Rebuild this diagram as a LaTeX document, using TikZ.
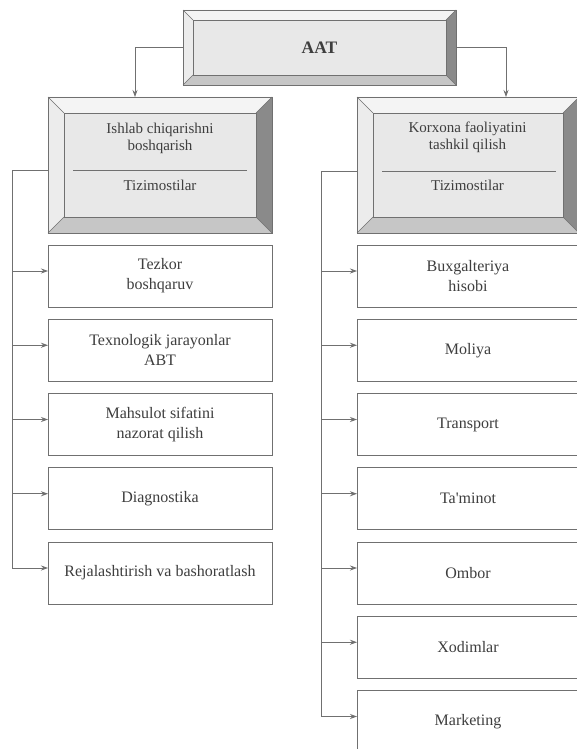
\documentclass[tikz,border=0pt]{standalone}
\usepackage{fontspec}
\setmainfont{Liberation Serif}
\usetikzlibrary{arrows.meta,positioning,calc,backgrounds}
\definecolor{linegray}{RGB}{112,112,112}
\definecolor{txtgray}{RGB}{62,62,62}
\definecolor{facegray}{RGB}{232,232,232}
\definecolor{toplight}{RGB}{244,244,244}
\definecolor{leftlight}{RGB}{236,236,236}
\definecolor{botmid}{RGB}{198,198,198}
\definecolor{rightdark}{RGB}{138,138,138}
% raised box drawn round an (empty) node: #1 node, #2 bevel depth
\newcommand{\bevelbox}[2]{%
  \begin{scope}[on background layer]
    \fill[toplight] (#1.north west) -- (#1.north east) -- ($(#1.north east)+(-#2,#2)$) -- ($(#1.north west)+(#2,#2)$) -- cycle;
    \fill[leftlight] (#1.north west) -- ($(#1.north west)+(#2,#2)$) -- ($(#1.south west)+(#2,-#2)$) -- (#1.south west) -- cycle;
    \fill[botmid] (#1.south west) -- ($(#1.south west)+(#2,-#2)$) -- ($(#1.south east)+(-#2,-#2)$) -- (#1.south east) -- cycle;
    \fill[rightdark] (#1.north east) -- ($(#1.north east)+(-#2,#2)$) -- ($(#1.south east)+(-#2,-#2)$) -- (#1.south east) -- cycle;
    \fill[facegray] ($(#1.north west)+(#2,#2)$) rectangle ($(#1.south east)+(-#2,-#2)$);
    \draw[linegray,thin] (#1.north west) rectangle (#1.south east);
    \draw[linegray,thin] ($(#1.north west)+(#2,#2)$) rectangle ($(#1.south east)+(-#2,-#2)$);
    \draw[linegray,thin] (#1.north west) -- ($(#1.north west)+(#2,#2)$)
      (#1.north east) -- ($(#1.north east)+(-#2,#2)$)
      (#1.south west) -- ($(#1.south west)+(#2,-#2)$)
      (#1.south east) -- ($(#1.south east)+(-#2,-#2)$);
  \end{scope}}

\begin{document}
\begin{tikzpicture}[x=1pt,y=-1pt,>={Stealth[length=7pt,width=5pt]},
  hdr/.style={minimum width=224pt,minimum height=136pt,inner sep=0pt,outer sep=0pt},
  item/.style={draw=linegray,fill=white,line width=0.8pt,minimum width=224pt,minimum height=62pt,
    inner sep=2pt,outer sep=0pt,align=center,text=txtgray,font=\fontsize{16}{20}\selectfont},
  title/.style={align=center,text=txtgray,inner sep=0pt,font=\fontsize{15}{17}\selectfont},
  conn/.style={draw=linegray,line width=0.8pt},
  arr/.style={conn,->,linegray}]
  % page
  \begin{scope}[on background layer]
    \fill[white] (0,0) rectangle (577,749);
  \end{scope}
  \useasboundingbox (0,0) rectangle (577,749);

  % --- top ---
  \node[hdr,minimum width=273pt,minimum height=75pt,text=txtgray,
    font=\fontsize{17.5}{20}\selectfont\bfseries] (aat) at (319.5,47.5) {AAT};
  \bevelbox{aat}{10}

  % --- left column header ---
  \node[hdr] (ish) at (160,165) {};
  \bevelbox{ish}{16}
  \node[title] (ishT) at (160,138.5) {Ishlab chiqarishni\\boshqarish};
  \draw[linegray,thin] (73,170) -- (247,170);
  \node[title] (ishS) at (160,185) {Tizimostilar};

  % --- right column header ---
  \node[hdr,minimum width=222pt] (kor) at (468,165) {};
  \bevelbox{kor}{16}
  \node[title] (korT) at (467.5,137) {Korxona faoliyatini\\tashkil qilish};
  \draw[linegray,thin] (382,171) -- (556,171);
  \node[title] (korS) at (467.5,185) {Tizimostilar};

  % links from the top
  \draw[arr] (aat.west) -| ([xshift=-25pt]ish.north);
  \draw[arr] (aat.east) -| ([xshift=38pt]kor.north);

  % --- left list ---
  \node[item] (l1) at (160,276) {Tezkor\\boshqaruv};
  \node[item] (l2) at (160,350.25) {Texnologik jarayonlar\\ABT};
  \node[item] (l3) at (160,424.5) {Mahsulot sifatini\\nazorat qilish};
  \node[item] (l4) at (160,498.75) {Diagnostika};
  \node[item] (l5) at (160,573) {Rejalashtirish va bashoratlash};

  % --- right list ---
  \node[item,minimum width=222pt] (r1) at (468,276) {Buxgalteriya\\hisobi};
  \node[item,minimum width=222pt] (r2) at (468,350.25) {Moliya};
  \node[item,minimum width=222pt] (r3) at (468,424.5) {Transport};
  \node[item,minimum width=222pt] (r4) at (468,498.75) {Ta\textquotesingle minot};
  \node[item,minimum width=222pt] (r5) at (468,573) {Ombor};
  \node[item,minimum width=222pt] (r6) at (468,647.25) {Xodimlar};
  \node[item,minimum width=222pt] (r7) at (468,721.5) {Marketing};

  % buses
  \draw[conn] ([yshift=-5pt]ish.west) -| ($(l5.west)+(-36,-5)$);
  \draw[conn] ([yshift=-6pt]kor.west) -| ($(r7.west)+(-36,-5)$);
  \foreach \b in {l1,l2,l3,l4,l5,r1,r2,r3,r4,r5,r6,r7}
    \draw[arr] ($(\b.west)+(-36,-5)$) -- ($(\b.west)+(0,-5)$);
\end{tikzpicture}
\end{document}
